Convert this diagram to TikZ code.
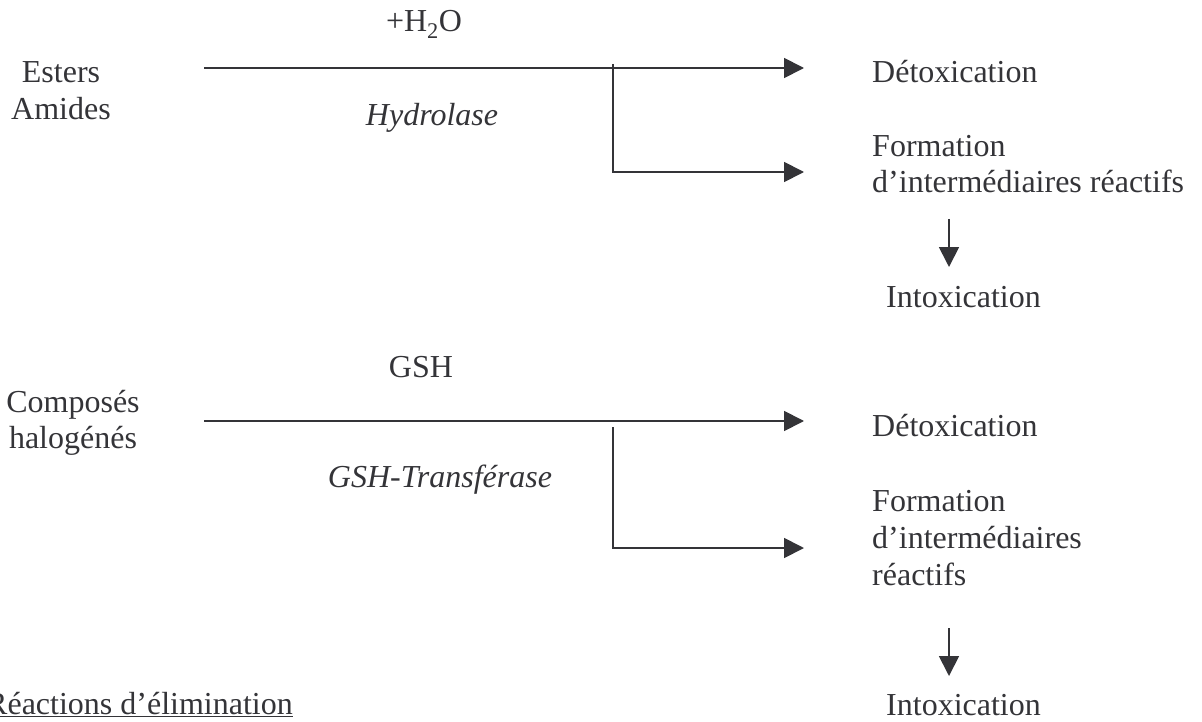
\documentclass[tikz,border=0pt]{standalone}
\usepackage{fontspec}
\setmainfont{Liberation Serif}
\usetikzlibrary{arrows.meta}
\definecolor{ink}{RGB}{52,52,56}
\begin{document}
\begin{tikzpicture}[x=1pt,y=-1pt,
  txt/.style={inner sep=0pt, font=\fontsize{32}{36.8}\selectfont, text=ink},
  lbl/.style={txt, anchor=base},
  itlbl/.style={lbl, font=\fontsize{32}{36.8}\selectfont\itshape},
  rt/.style={txt, anchor=base west},
  conn/.style={draw=ink, line width=1.8pt},
  arr/.style={conn, -{Triangle[length=20pt,width=20pt]}}]
\useasboundingbox (0,0) rectangle (1202,722);

% ---- top reaction ----
\node[lbl] (esters) at (61,83) {Esters};
\node[lbl] (amides) at (61,120) {Amides};
\node[lbl] (h2o) at (424,32) {+H\textsubscript{2}O};
\node[itlbl] (hydro) at (432,126) {Hydrolase};
\node[rt] (deto1) at (872,83) {Détoxication};
\node[rt] (form1a) at (872,157) {Formation};
\node[rt] (form1b) at (872,193) {d’intermédiaires réactifs};
\node[rt] (intox1) at (886,307) {Intoxication};

\coordinate (s1) at (204,68);
\coordinate (t1) at (804,68);
\coordinate (b1) at (613,64);
\coordinate (u1) at (804,172);
\coordinate (d1a) at (949,219);
\coordinate (d1b) at (949,267);
\draw[arr] (s1) -- (t1);
\draw[arr] (b1) |- (u1);
\draw[arr] (d1a) -- (d1b);

% ---- bottom reaction ----
\node[lbl] (comp) at (73,412) {Composés};
\node[lbl] (halo) at (73,448) {halogénés};
\node[lbl] (gsh) at (421,377) {GSH};
\node[itlbl] (gsht) at (440,487) {GSH-Transférase};
\node[rt] (deto2) at (872,436) {Détoxication};
\node[rt] (form2a) at (872,511) {Formation};
\node[rt] (form2b) at (872,548) {d’intermédiaires};
\node[rt] (form2c) at (872,585) {réactifs};
\node[rt] (intox2) at (886,715) {Intoxication};

\coordinate (s2) at (204,421);
\coordinate (t2) at (804,421);
\coordinate (b2) at (613,427);
\coordinate (u2) at (804,548);
\coordinate (d2a) at (949,628);
\coordinate (d2b) at (949,676);
\draw[arr] (s2) -- (t2);
\draw[arr] (b2) |- (u2);
\draw[arr] (d2a) -- (d2b);

% ---- heading ----
\node[rt] (elim) at (-14,714) {\underline{Réactions d’élimination}};
\end{tikzpicture}
\end{document}
